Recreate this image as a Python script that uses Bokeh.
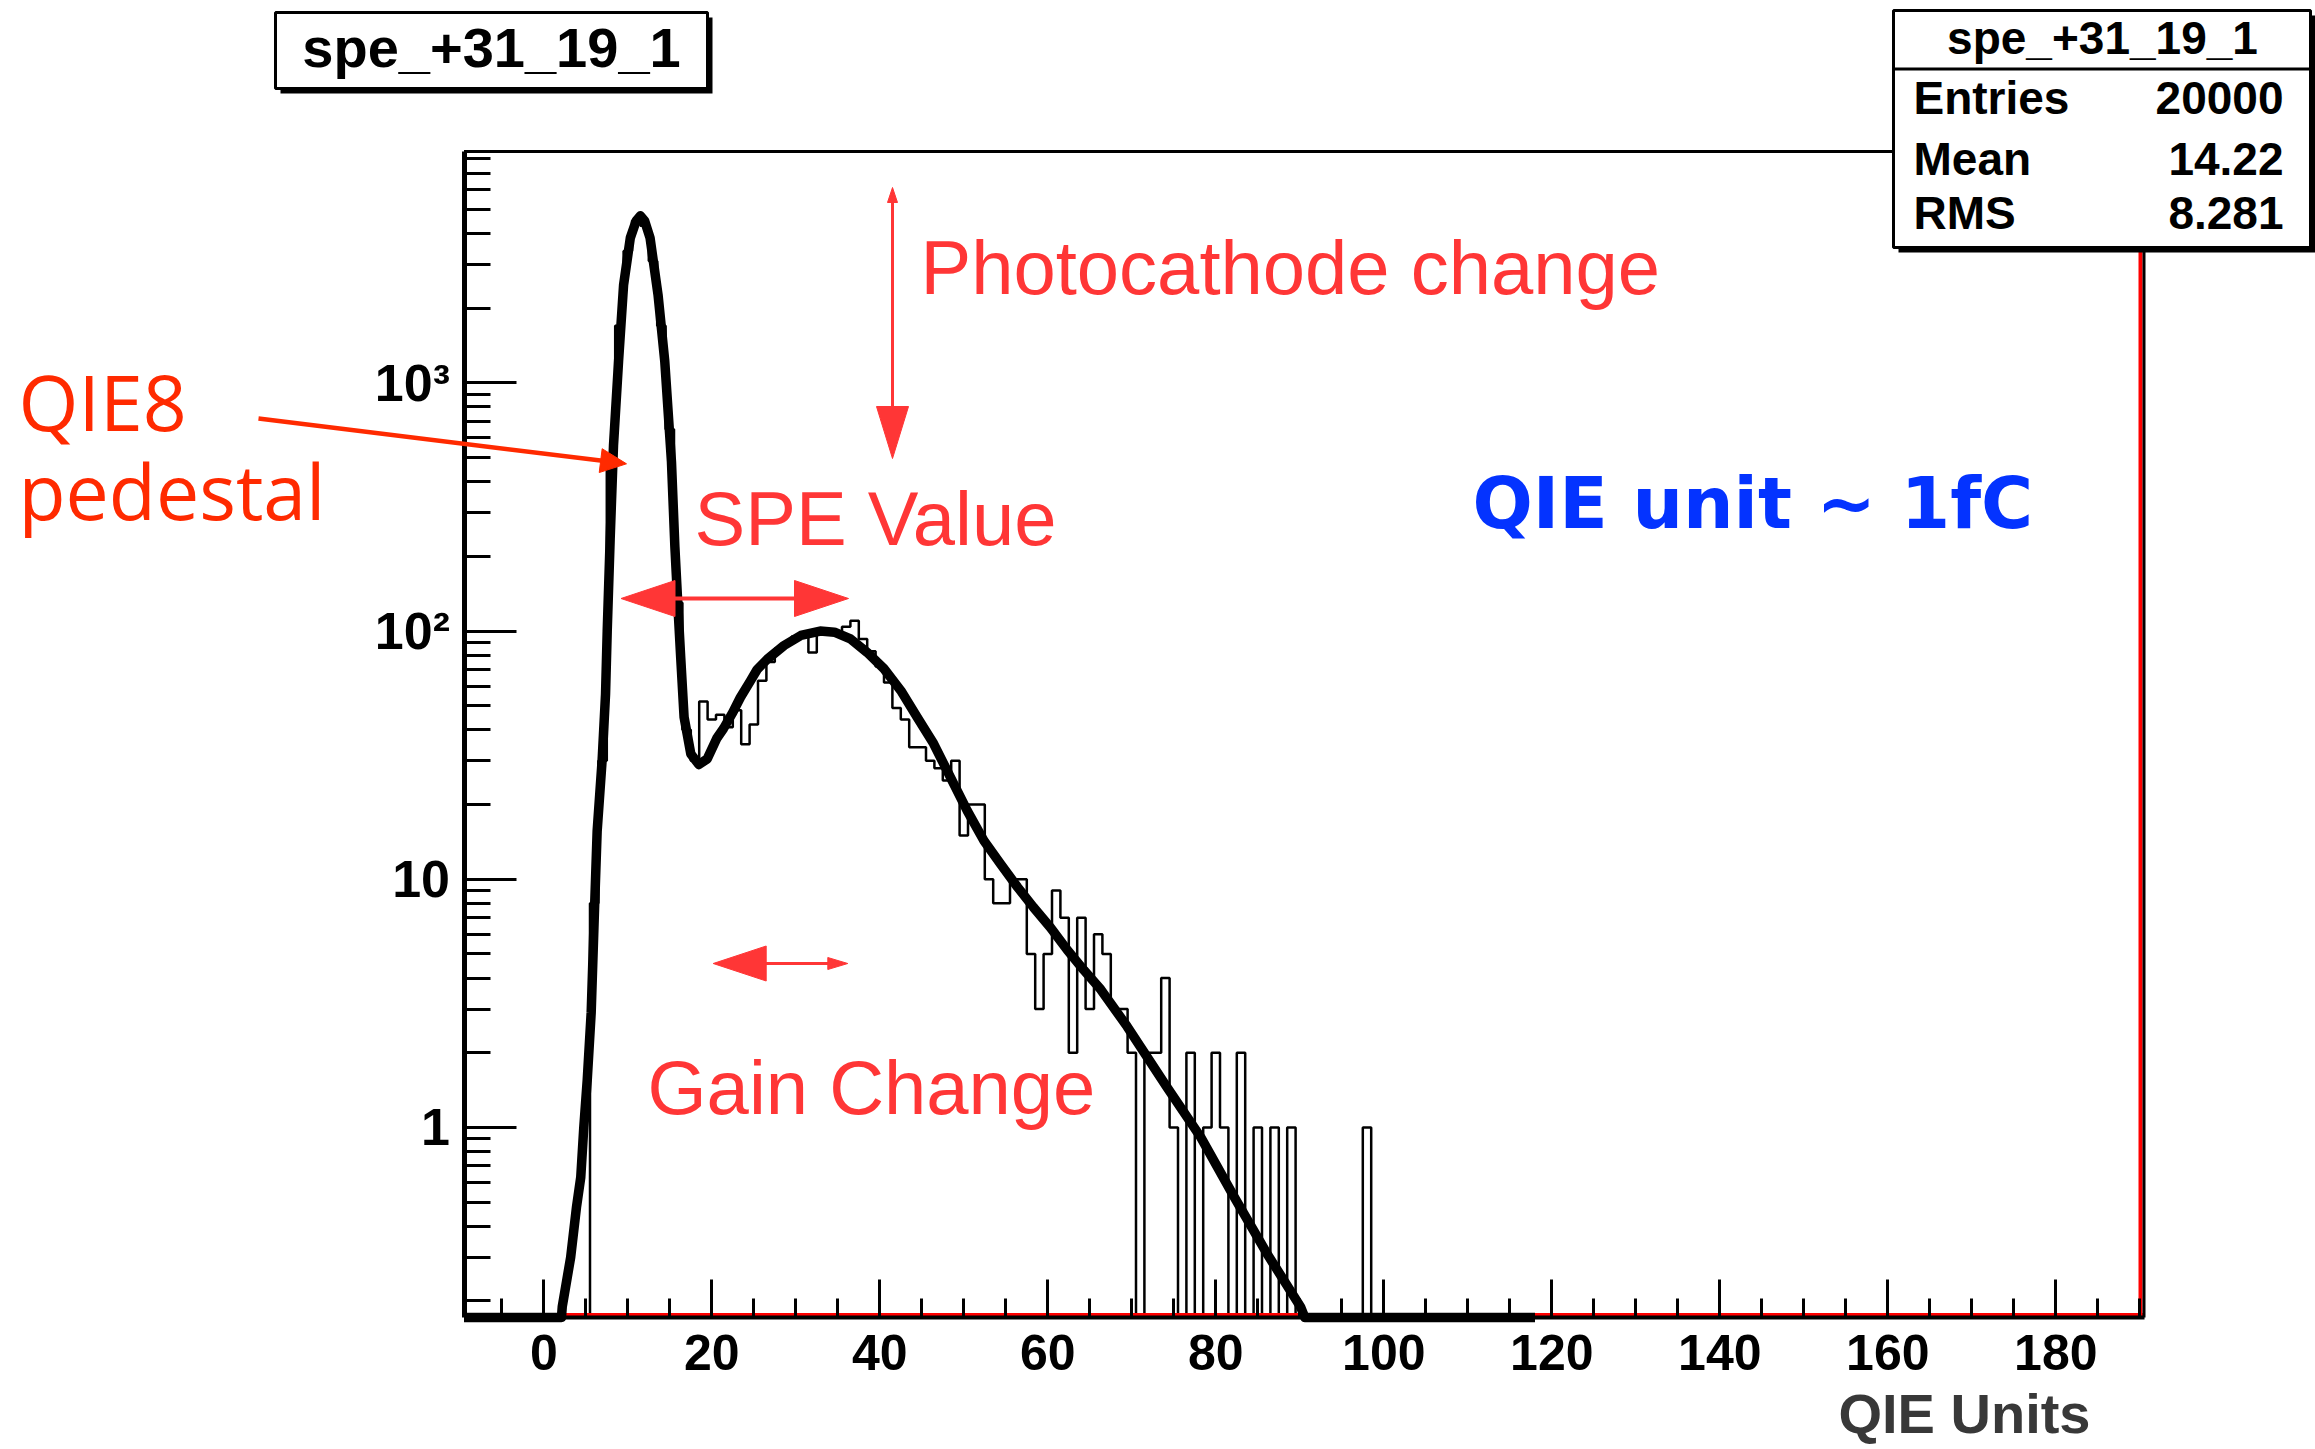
import numpy as np
from bokeh.plotting import figure
from bokeh.models import Range1d, FixedTicker, Label, Arrow, PolyAnnotation, BoxAnnotation
from bokeh.embed import file_html
from bokeh.resources import INLINE

# ---------------- data ----------------
hist_name = "spe_+31_19_1"
stats_labels = ["Entries", "Mean", "RMS"]
stats_values = ["20000", "14.22", "8.281"]
x_label = "QIE Units"
x_ticks = [0, 20, 40, 60, 80, 100, 120, 140, 160, 180]
y_ticks = [1, 10, 100, 1000]
y_tick_labels = ["1", "10", "10\u00b2", "10\u00b3"]

# histogram: unit-width bins centred on integers, first non-empty bin = 6
hist_first_bin = 6
hist_counts = [
    8, 30, 480, 1700, 3400, 4500, 4300, 3100, 1700, 650,       # 6-15
    130, 40, 30, 52, 44, 46, 41, 48, 35, 42,                    # 16-25
    63, 75, 85, 90, 95, 98, 82, 100, 100, 99,                   # 26-35
    104, 110, 93, 83, 72, 62, 49, 44, 34, 34,                   # 36-45
    30, 28, 25, 30, 15, 20, 20, 10, 8, 8,                       # 46-55
    10, 10, 5, 3, 5, 9, 7, 2, 7, 3,                             # 56-65
    6, 5, 3, 3, 2, 0, 2, 2, 4, 1,                               # 66-75
    0, 2, 0, 1, 2, 1, 0, 2, 0, 1,                               # 76-85
    0, 1, 0, 1, 0, 0, 0, 0, 0, 0,                               # 86-95
    0, 0, 1,                                                    # 96-98
]

# fitted function (thick black curve); values below the axis sit on the floor
fit_x = [-9.5, 2.1, 2.2, 3.2, 3.9, 4.4, 4.76, 5.17, 5.64, 6.04, 6.35, 6.95, 7.35,
         7.55, 7.9, 8.3, 8.9, 9.5, 10.3, 11.0, 11.5, 12.0, 12.65, 13.6, 14.4,
         15.2, 15.6, 16.0, 16.3, 16.7, 17.5, 18.45, 19.45, 20.6, 21.4, 22.5,
         23.4, 24.6, 25.4, 26.6, 28.6, 30.6, 32.9, 34.6, 36.5, 38.5, 40.5, 42.5,
         44.45, 46.4, 48.4, 50.4, 52.4, 54.4, 56.4, 58.3, 60.3, 62.3, 64.3, 66.3,
         69.45, 74.2, 78.2, 82.2, 86.1, 90.1, 90.6, 118.0]
fit_y = [0.1, 0.17, 0.19, 0.30, 0.48, 0.63, 1.0, 1.55, 2.9, 7.6, 15.6, 30.4, 55.6,
         100, 235, 561, 1222, 2484, 3838, 4500, 4710, 4500, 3838, 2264, 1222,
         480, 220, 120, 78, 45, 32, 29, 30.5, 37, 40.5, 47,
         54, 63, 70, 77, 87.5, 96, 100, 99, 93, 82, 70.5, 57.6,
         45, 35.2, 25.8, 18.9, 14.3, 11.5, 9.3, 7.7, 6.4, 5.2, 4.3, 3.6,
         2.55, 1.45, 0.914, 0.524, 0.31, 0.189, 0.17, 0.1]

# ---------------- layout ----------------
W, H = 2315, 1449
FL, FR, FT, FB = 463.5, 2143.5, 151, 1317       # axis box edges in pixels
XMIN, XMAX = -9.5, 190.5
YMIN, YMAX = 0.1715, 8556.0
LY0, LY1 = np.log10(YMIN), np.log10(YMAX)

RED = "#FF3636"
ORANGE_RED = "#FF2A00"
BLUE = "#0433FF"
BASE_SHIFT = 0.385          # em correction for the alphabetic baseline


def dx(px):
    return XMIN + (px - FL) / (FR - FL) * (XMAX - XMIN)


def dy(py):
    return 10 ** (LY0 + (FB - py) / (FB - FT) * (LY1 - LY0))


# the frame spans the whole canvas; the axes are pinned at the axis box edges
p = figure(width=W, height=H, x_range=Range1d(dx(0), dx(W)), y_range=Range1d(dy(H), dy(0)),
           y_axis_type="log", output_backend="svg", toolbar_location=None,
           min_border_left=0, min_border_right=0, min_border_top=0, min_border_bottom=0)
p.title.visible = False
p.background_fill_color = "white"
p.border_fill_color = "white"
p.outline_line_color = None
p.xgrid.visible = False
p.ygrid.visible = False

# x axis
xa = p.xaxis[0]
x_minor = [v for v in np.arange(-5, 191, 5) if v % 20 != 0]
xa.ticker = FixedTicker(ticks=x_ticks, minor_ticks=x_minor)
xa.fixed_location = YMIN
xa.bounds = (XMIN, XMAX)
xa.axis_line_width = 4
xa.axis_line_color = "black"
xa.major_tick_in, xa.major_tick_out = 38, 0
xa.minor_tick_in, xa.minor_tick_out = 19, 0
xa.major_tick_line_width = 3
xa.minor_tick_line_width = 3
xa.major_label_text_font = "Liberation Sans"
xa.major_label_text_font_style = "bold"
xa.major_label_text_font_size = "50px"
xa.major_label_text_color = "black"
xa.major_label_standoff = 17

# y axis
ya = p.yaxis[0]
y_minor = [m * 10.0 ** e for e in range(-1, 4) for m in range(2, 10)
           if YMIN <= m * 10.0 ** e <= YMAX]
ya.ticker = FixedTicker(ticks=y_ticks, minor_ticks=y_minor)
ya.major_label_overrides = {t: s for t, s in zip(y_ticks, y_tick_labels)}
ya.fixed_location = XMIN
ya.bounds = (YMIN, YMAX)
ya.axis_line_width = 5
ya.axis_line_color = "black"
ya.major_tick_in, ya.major_tick_out = 52, 0
ya.minor_tick_in, ya.minor_tick_out = 26, 0
ya.major_tick_line_width = 3
ya.minor_tick_line_width = 3
ya.major_label_text_font = "Liberation Sans"
ya.major_label_text_font_style = "bold"
ya.major_label_text_font_size = "52px"
ya.major_label_text_color = "black"
ya.major_label_standoff = 14

# ---------------- glyphs ----------------
centers = np.arange(hist_first_bin, hist_first_bin + len(hist_counts))
counts = np.clip(np.array(hist_counts, float), YMIN, None)
hx = np.concatenate([[XMIN, centers[0] - 0.5],
                     np.column_stack([centers - 0.5, centers + 0.5]).ravel(),
                     [centers[-1] + 0.5, XMAX]])
hy = np.concatenate([[YMIN, YMIN], np.repeat(counts, 2), [YMIN, YMIN]])
p.line(hx, hy, line_color="black", line_width=2.5)

# frame: black top / right edges, red inner edge line on the right and bottom
p.line([XMIN, XMAX], [YMAX, YMAX], line_color="black", line_width=3)
p.line([dx(FR - 3.5)] * 2, [YMIN, YMAX], line_color="red", line_width=4)
p.line([XMIN, XMAX], [dy(FB - 3)] * 2, line_color="red", line_width=3)
p.line([XMAX, XMAX], [YMIN, YMAX], line_color="black", line_width=3)

p.line(fit_x, np.clip(fit_y, YMIN, None), line_color="black", line_width=9.5,
       line_join="round")


# ---------------- annotations ----------------
def box(l, t, r, b, fill, line=None, lw=0):
    p.add_layout(BoxAnnotation(left=dx(l), right=dx(r), top=dy(t), bottom=dy(b),
                               fill_color=fill, fill_alpha=1.0,
                               line_color=line if line else fill,
                               line_alpha=1.0 if line else 0.0, line_width=lw))


def label(x, base, text, size, color="black", font="Liberation Sans", style="bold",
          align="left"):
    p.add_layout(Label(x=dx(x), y=dy(base - BASE_SHIFT * size), text=text,
                       text_font=font, text_font_size=f"{size}px",
                       text_font_style=style, text_color=color, text_align=align,
                       text_baseline="alphabetic"))


def head(tx, ty, ux, uy, length, hw, color):
    bx, by = tx - length * ux, ty - length * uy
    nx, ny = -uy, ux
    pts = [(tx, ty), (bx + hw * nx, by + hw * ny), (bx - hw * nx, by - hw * ny)]
    p.add_layout(PolyAnnotation(xs=[dx(a) for a, _ in pts], ys=[dy(b) for _, b in pts],
                                fill_color=color, fill_alpha=1.0, line_color=color,
                                line_alpha=1.0, line_width=1))


def shaft(x0, y0, x1, y1, color, w):
    p.add_layout(Arrow(start=None, end=None, x_start=dx(x0), y_start=dy(y0),
                       x_end=dx(x1), y_end=dy(y1), line_color=color, line_width=w))


# title box
box(280, 17, 712, 93, "black")
box(275, 12, 707, 88, "white", "black", 3)
label(491, 69, hist_name, 56, align="center")

# stats box
box(1898, 15, 2315, 252, "black")
box(1893, 10, 2310, 247, "white", "black", 3)
box(1893, 67, 2310, 70, "black")
label(2102, 55, hist_name, 46, align="center")
for (lab, val, base) in zip(stats_labels, stats_values, [115, 176, 230]):
    label(1913, base, lab, 46)
    label(2283, base, val, 46, align="right")

# axis title
label(2090, 1435, x_label, 56, color="#383838", align="right")

# annotation texts
label(920, 296, "Photocathode change", 76, RED, style="normal")
label(694, 547, "SPE Value", 76, RED, style="normal")
label(647, 1116, "Gain Change", 76, RED, style="normal")
label(18, 431, "QIE8", 77, ORANGE_RED, font="Open Sans", style="normal")
label(18, 520, "pedestal", 77, ORANGE_RED, font="Open Sans", style="normal")
label(1472, 530, "QIE unit ~ 1fC", 71, BLUE, font="DejaVu Sans", style="bold")

# arrows
shaft(892, 195, 892, 415, RED, 3)
head(892, 187, 0, -1, 15, 5, RED)
head(892, 458, 0, 1, 52, 16, RED)

shaft(660, 598, 800, 598, RED, 4)
head(620.5, 598, -1, 0, 54, 18, RED)
head(848, 598, 1, 0, 54, 18, RED)

shaft(750, 963, 835, 963, RED, 3)
head(712.7, 963, -1, 0, 53, 17.5, RED)
head(847.3, 963, 1, 0, 20, 6, RED)

qx0, qy0, qx1, qy1 = 258, 418, 626, 463.3
L = np.hypot(qx1 - qx0, qy1 - qy0)
ux, uy = (qx1 - qx0) / L, (qy1 - qy0) / L
shaft(qx0, qy0, qx1 - 20 * ux, qy1 - 20 * uy, ORANGE_RED, 4.5)
head(qx1, qy1, ux, uy, 26, 12, ORANGE_RED)

open("out.html", "w").write(file_html(p, INLINE))
